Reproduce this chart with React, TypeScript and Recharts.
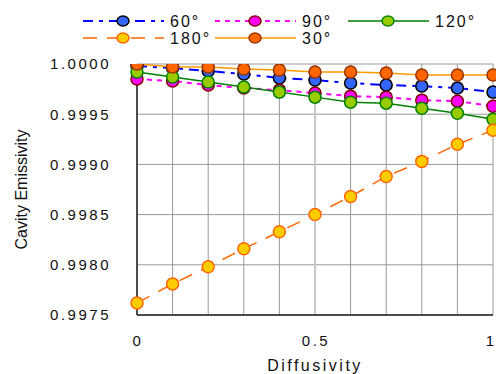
import React from 'react'
import { LineChart, Line, XAxis, YAxis, CartesianGrid, ReferenceLine } from 'recharts'

const diffusivity = [0, 0.1, 0.2, 0.3, 0.4, 0.5, 0.6, 0.7, 0.8, 0.9, 1]
const e60 = [0.99998, 0.99996, 0.99993, 0.9999, 0.99986, 0.99984, 0.99981, 0.99979, 0.99978, 0.99976, 0.99972]
const e90 = [0.99985, 0.99983, 0.99979, 0.99976, 0.99974, 0.99971, 0.99968, 0.99967, 0.99964, 0.99963, 0.99958]
const e120 = [0.99992, 0.99987, 0.99982, 0.99977, 0.99972, 0.99967, 0.99962, 0.99961, 0.99956, 0.99951, 0.99945]
const e180 = [0.99762, 0.99781, 0.99798, 0.99816, 0.99833, 0.9985, 0.99868, 0.99888, 0.99903, 0.9992, 0.99934]
const e30 = [1.0, 0.99997, 0.99997, 0.99995, 0.99994, 0.99992, 0.99992, 0.99991, 0.99989, 0.99989, 0.99989]

const xTicks = [0, 0.1, 0.2, 0.3, 0.4, 0.5, 0.6, 0.7, 0.8, 0.9, 1]
const xLabels = [0, 0.5, 1]
const yTicks = [0.9975, 0.998, 0.9985, 0.999, 0.9995, 1.0]

const data = diffusivity.map((d, i) => ({
  d,
  a60: e60[i],
  a90: e90[i],
  a120: e120[i],
  a180: e180[i],
  a30: e30[i],
}))

const FONT = '"Liberation Sans", Arial, sans-serif'
const W = 496
const H = 374

const series = [
  { key: 'a60', name: '60°', line: '#0000ff', dash: '10 6 4 6', width: 2, fill: '#3366ff', dotStroke: '#000000' },
  { key: 'a90', name: '90°', line: '#ff00ff', dash: '5 5', width: 2, fill: '#ff00ff', dotStroke: '#800000' },
  { key: 'a120', name: '120°', line: '#008000', dash: undefined, width: 1.5, fill: '#99cc00', dotStroke: '#008000' },
  { key: 'a180', name: '180°', line: '#ff6600', dash: '14 10', width: 1.5, fill: '#ffcc00', dotStroke: '#ff6600' },
  { key: 'a30', name: '30°', line: '#ff9900', dash: undefined, width: 1.5, fill: '#ff6600', dotStroke: '#993300' },
]

// legend slot positions (row / column layout like the original)
const slots = [
  { x: 83, y: 21 },
  { x: 215, y: 21 },
  { x: 348, y: 21 },
  { x: 83, y: 38 },
  { x: 215, y: 38 },
]

const LegendBox = () => (
  <svg width={W} height={52} style={{ position: 'absolute', top: 0, left: 0 }}>
    {series.map((s, i) => {
      const p = slots[i]
      return (
        <g key={s.key}>
          <line x1={p.x} y1={p.y} x2={p.x + 81} y2={p.y} stroke={s.line} strokeWidth={s.width} strokeDasharray={s.dash} />
          <ellipse cx={p.x + 40} cy={p.y} rx={6} ry={5} fill={s.fill} stroke={s.dotStroke} strokeWidth={1.5} />
          <text x={p.x + 87} y={p.y + 6} fontFamily={FONT} fontSize={16} letterSpacing={2} fill="#111">
            {s.name}
          </text>
        </g>
      )
    })}
  </svg>
)

const YLabel = (props: any) => {
  const vb = props.viewBox
  const cy = vb.y + vb.height / 2
  return (
    <text
      x={21}
      y={cy}
      transform={`rotate(-90, 21, ${cy})`}
      textAnchor="middle"
      dominantBaseline="central"
      fontFamily={FONT}
      fontSize={16}
      fill="#111"
    >
      Cavity Emissivity
    </text>
  )
}

const XLabel = (props: any) => {
  const vb = props.viewBox
  return (
    <text
      x={vb.x + vb.width / 2}
      y={365}
      textAnchor="middle"
      dominantBaseline="central"
      fontFamily={FONT}
      fontSize={16}
      letterSpacing={2.5}
      fill="#111"
    >
      Diffusivity
    </text>
  )
}

const XTick = (props: any) => {
  const { x, y, payload } = props
  const v = payload.value
  if (!xLabels.includes(v)) return null
  const last = v === xTicks[xTicks.length - 1]
  return (
    <text
      x={last ? x + 1 : x + 1}
      y={y}
      dy="0.71em"
      textAnchor={last ? 'end' : 'middle'}
      fontFamily={FONT}
      fontSize={15}
      letterSpacing={last ? 0 : 2.5}
      fill="#111"
    >
      {String(v)}
    </text>
  )
}

const tickStyle = { fontFamily: FONT, fontSize: 15, letterSpacing: 2.5, fill: '#111' }

const App = () => {
  return (
    <div style={{ position: 'relative', width: W, height: H }}>
      <style>{'body { margin: 0; }'}</style>
      <LineChart width={W} height={H} data={data} margin={{ top: 64, right: 3, left: 0, bottom: 0 }}>
        <CartesianGrid stroke="#999999" strokeWidth={1} />
        <ReferenceLine x={0.5} stroke="#c8c8c8" strokeWidth={2} />
        <XAxis
          dataKey="d"
          type="number"
          domain={[0, 1]}
          ticks={xTicks}
          tickLine={false}
          tickMargin={14}
          height={59}
          axisLine={{ stroke: '#222', strokeWidth: 1.5 }}
          tick={<XTick />}
          interval={0}
          label={<XLabel />}
        />
        <YAxis
          type="number"
          domain={[0.9975, 1.0]}
          ticks={yTicks}
          tickFormatter={(v: number) => v.toFixed(4)}
          tickLine={false}
          tickMargin={20}
          width={137}
          axisLine={{ stroke: '#222', strokeWidth: 1.5 }}
          tick={tickStyle}
          allowDataOverflow
          label={<YLabel />}
        />
        {series.map((s) => (
          <Line
            key={s.key}
            dataKey={s.key}
            name={s.name}
            stroke={s.line}
            strokeWidth={s.width}
            strokeDasharray={s.dash}
            isAnimationActive={false}
            dot={{ r: 6, fill: s.fill, stroke: s.dotStroke, strokeWidth: 1.5, strokeDasharray: '' }}
          />
        ))}
      </LineChart>
      <LegendBox />
    </div>
  )
}

export default App
